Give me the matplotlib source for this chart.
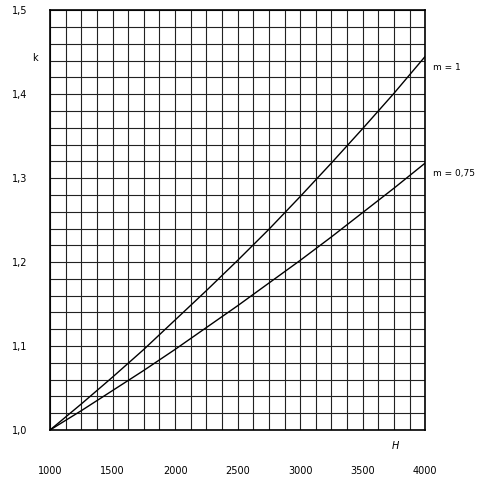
import numpy as np
import matplotlib
matplotlib.use("Agg")
import matplotlib.pyplot as plt
from matplotlib.ticker import MultipleLocator

# values
H = [1000, 1250, 1500, 1750, 2000, 2250, 2500, 2750, 3000, 3250, 3500, 3750, 4000]
k_m1 = [1.0, 1.031, 1.063, 1.096, 1.131, 1.166, 1.202, 1.239, 1.278, 1.318, 1.359, 1.401, 1.445]
k_m075 = [1.0, 1.023, 1.047, 1.071, 1.096, 1.122, 1.148, 1.175, 1.202, 1.230, 1.259, 1.288, 1.318]
x_ticks = [1000, 1500, 2000, 2500, 3000, 3500, 4000]
y_ticks = [1.0, 1.1, 1.2, 1.3, 1.4, 1.5]

fig = plt.figure(figsize=(4.95, 4.87), dpi=100)
ax = fig.add_axes([0.101, 0.117, 0.758, 0.862])

ax.plot(H, k_m1, color="black", lw=1.0)
ax.plot(H, k_m075, color="black", lw=1.0)

ax.set_xlim(1000, 4000)
ax.set_ylim(1.0, 1.5)
ax.xaxis.set_minor_locator(MultipleLocator(125))
ax.yaxis.set_minor_locator(MultipleLocator(0.02))
ax.set_xticks(x_ticks)
ax.set_yticks(y_ticks)
ax.set_yticklabels([f"{v:.1f}".replace(".", ",") for v in y_ticks])
ax.grid(which="both", color="#222222", lw=0.8)
ax.tick_params(which="both", length=0, labelsize=7)
ax.tick_params(axis="x", pad=26)
ax.tick_params(axis="y", pad=16)
for s in ax.spines.values():
    s.set_linewidth(1.2)

ax.text(-0.04, 0.88, "k", transform=ax.transAxes, fontsize=7, ha="center")
ax.text(0.92, -0.045, "H", transform=ax.transAxes, fontsize=7, style="italic", ha="center")
ax.text(1.02, 1.432, "m = 1", fontsize=6.5, transform=ax.get_yaxis_transform(), va="center")
ax.text(1.02, 1.306, "m = 0,75", fontsize=6.5, transform=ax.get_yaxis_transform(), va="center")

fig.savefig("out.png", dpi=100)
